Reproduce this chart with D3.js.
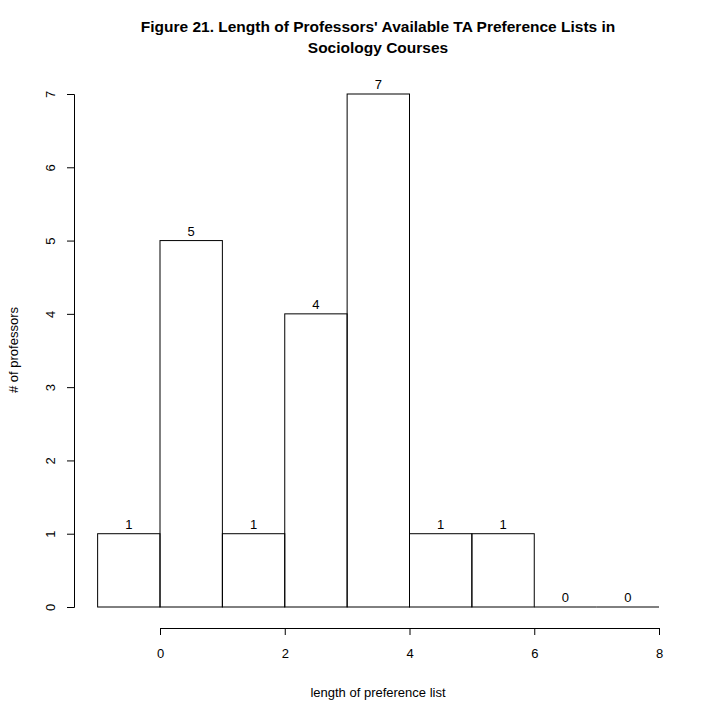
<!DOCTYPE html>
<html><head><meta charset="utf-8">
<script src="https://cdn.jsdelivr.net/npm/d3@7"></script>
<style>body{margin:0;background:#fff}text{font-family:"Liberation Sans",Arial,sans-serif}</style>
</head><body>
<svg id="c" width="720" height="720"></svg>
<script>
const binStarts = [-1, 0, 1, 2, 3, 4, 5, 6, 7];
const counts = [1, 5, 1, 4, 7, 1, 1, 0, 0];
const xTicks = [0, 2, 4, 6, 8];
const yTicks = [0, 1, 2, 3, 4, 5, 6, 7];

const svg = d3.select("#c");
const x = d3.scaleLinear().domain([0, 8]).range([160, 659]);
const y = d3.scaleLinear().domain([0, 7]).range([607, 94]);

// bars (zero-count bins collapse to a flat line on the baseline)
svg.append("g").selectAll("rect").data(binStarts).join("rect")
  .attr("x", d => x(d)).attr("width", d => x(d + 1) - x(d))
  .attr("y", (d, i) => y(counts[i])).attr("height", (d, i) => y(0) - y(counts[i]))
  .attr("fill", "none").attr("stroke", "#000").attr("stroke-width", 1);
svg.append("g").selectAll("line").data(binStarts.filter((d, i) => counts[i] === 0)).join("line")
  .attr("x1", d => x(d)).attr("x2", d => x(d + 1))
  .attr("y1", y(0)).attr("y2", y(0)).attr("stroke", "#000");

svg.append("g").selectAll("text").data(binStarts).join("text")
  .attr("x", d => x(d + 0.5)).attr("y", (d, i) => y(counts[i]) - 5)
  .attr("text-anchor", "middle").attr("font-size", 13).text((d, i) => counts[i]);

const gx = svg.append("g").attr("transform", "translate(0,628)")
  .call(d3.axisBottom(x).tickValues(xTicks).tickSize(7).tickPadding(14).tickFormat(d3.format("d")));
gx.selectAll("text").attr("font-size", 13).attr("fill", "#000");

const gy = svg.append("g").attr("transform", "translate(74,0)")
  .call(d3.axisLeft(y).tickValues(yTicks).tickSize(7).tickPadding(10).tickFormat(d3.format("d")));
gy.selectAll(".tick text").attr("font-size", 13).attr("fill", "#000")
  .attr("x", -24).attr("y", 0).attr("dy", "0.35em").attr("text-anchor", "middle")
  .attr("transform", "rotate(-90,-24,0)");
[gx, gy].forEach(g => { g.select(".domain").attr("stroke", "#000"); g.selectAll("line").attr("stroke", "#000"); });

svg.append("text").attr("x", 378).attr("y", 32).attr("text-anchor", "middle")
  .attr("font-size", 15.5).attr("font-weight", "bold")
  .text("Figure 21. Length of Professors' Available TA Preference Lists in");
svg.append("text").attr("x", 378).attr("y", 53).attr("text-anchor", "middle")
  .attr("font-size", 15.5).attr("font-weight", "bold").text("Sociology Courses");
svg.append("text").attr("x", 378).attr("y", 697).attr("text-anchor", "middle")
  .attr("font-size", 13).text("length of preference list");
svg.append("text").attr("transform", "translate(18,350) rotate(-90)").attr("text-anchor", "middle")
  .attr("font-size", 13).text("# of professors");
</script>
</body></html>
